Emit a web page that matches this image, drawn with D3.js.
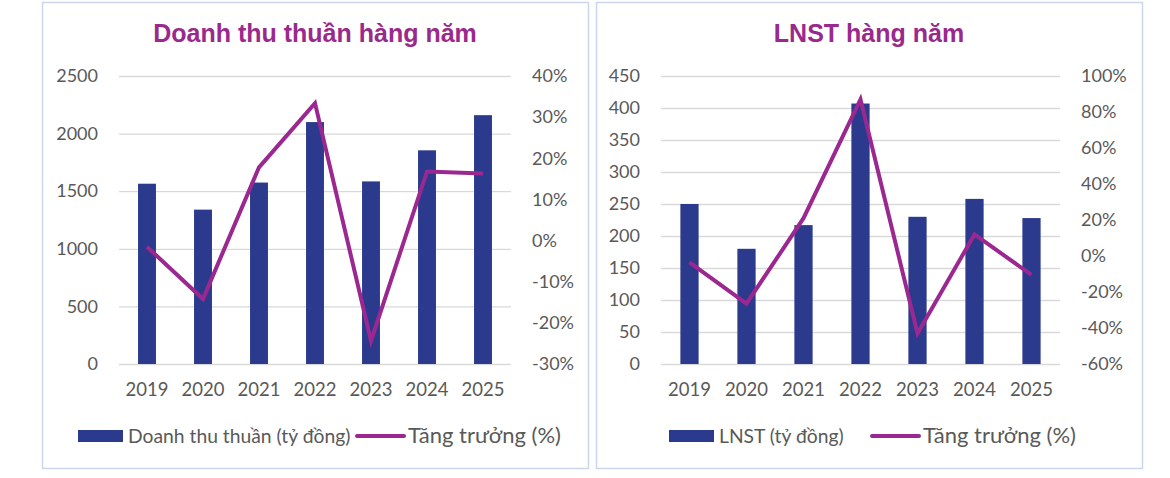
<!DOCTYPE html>
<html>
<head>
<meta charset="utf-8">
<script src="https://cdn.jsdelivr.net/npm/d3@7"></script>
<style>
  html, body { margin: 0; padding: 0; background: #ffffff; }
  svg { display: block; }
</style>
</head>
<body>
<svg id="chart" width="1170" height="478"></svg>
<script>
// ---------- DATA ----------
const years = ["2019", "2020", "2021", "2022", "2023", "2024", "2025"];

const revenueValues = [1565, 1340, 1575, 2100, 1585, 1855, 2160];
const revenueGrowth = [-1.5, -14.2, 17.8, 33.4, -24.4, 16.8, 16.3];
const revenueLeftTicks = [0, 500, 1000, 1500, 2000, 2500];
const revenueRightTicks = [-30, -20, -10, 0, 10, 20, 30, 40];

const profitValues = [250, 180, 217, 407, 230, 258, 228];
const profitGrowth = [-3.5, -26.5, 21, 87, -43, 12, -10.5];
const profitLeftTicks = [0, 50, 100, 150, 200, 250, 300, 350, 400, 450];
const profitRightTicks = [-60, -40, -20, 0, 20, 40, 60, 80, 100];

const titles = ["Doanh thu thuần hàng năm", "LNST hàng năm"];
const barLegend = ["Doanh thu thuần (tỷ đồng)", "LNST (tỷ đồng)"];
const lineLegend = "Tăng trưởng (%)";

// ---------- STYLE ----------
const BAR = "#2B3A8D";
const LINE = "#9B2790";
const TITLE = "#992A8C";
const TEXT = "#595959";
const GRID = "#D9D9D9";
const BORDER = "#C9D6EC";
const FONT = "Lato, 'Open Sans', sans-serif";

const svg = d3.select("#chart");

function drawPanel(cfg) {
  const g = svg.append("g");
  // border
  g.append("rect")
    .attr("x", cfg.box[0] + 0.5).attr("y", cfg.box[1] + 0.5)
    .attr("width", cfg.box[2] - cfg.box[0]).attr("height", cfg.box[3] - cfg.box[1])
    .attr("fill", "#fff").attr("stroke", BORDER).attr("stroke-width", 1.5);

  // title
  g.append("text")
    .attr("x", (cfg.box[0] + cfg.box[2]) / 2).attr("y", 42)
    .attr("text-anchor", "middle")
    .attr("font-family", "'Liberation Sans', Arial, sans-serif")
    .attr("font-weight", "bold").attr("font-size", 25)
    .attr("fill", TITLE).text(cfg.title);

  const x = d3.scaleBand().domain(years).range([cfg.left, cfg.right])
    .paddingInner(0.68).paddingOuter(0.34);
  const yL = d3.scaleLinear().domain(d3.extent(cfg.leftTicks)).range([364, 76]);
  const yR = d3.scaleLinear().domain(d3.extent(cfg.rightTicks)).range([364, 76]);

  // gridlines
  const gridG = g.append("g")
    .attr("transform", `translate(${cfg.left},0)`)
    .call(d3.axisLeft(yL).tickValues(cfg.leftTicks).tickSize(-(cfg.right - cfg.left)).tickFormat(""));
  gridG.select(".domain").remove();
  gridG.selectAll("line").attr("stroke", GRID).attr("stroke-width", 1.3);

  // left axis labels
  const la = g.append("g")
    .attr("transform", `translate(${cfg.left - 21},0)`)
    .call(d3.axisLeft(yL).tickValues(cfg.leftTicks).tickSize(0).tickPadding(0)
      .tickFormat(d3.format("d")));
  la.select(".domain").remove();
  la.selectAll("text").attr("font-family", FONT).attr("font-size", 18).attr("fill", TEXT);

  // right axis labels
  const ra = g.append("g")
    .attr("transform", `translate(${cfg.right + 21},0)`)
    .call(d3.axisRight(yR).tickValues(cfg.rightTicks).tickSize(0).tickPadding(0)
      .tickFormat(d => d + "%"));
  ra.select(".domain").remove();
  ra.selectAll("text").attr("font-family", FONT).attr("font-size", 18).attr("fill", TEXT);

  // x axis labels
  const xa = g.append("g")
    .attr("transform", `translate(0,364)`)
    .call(d3.axisBottom(x).tickSize(0).tickPadding(19));
  xa.select(".domain").remove();
  xa.selectAll("text").attr("font-family", FONT).attr("font-size", 18.5).attr("fill", TEXT);

  // bars
  g.append("g").selectAll("rect").data(cfg.values).join("rect")
    .attr("x", (d, i) => x(years[i]))
    .attr("width", x.bandwidth())
    .attr("y", d => yL(d))
    .attr("height", d => yL(0) - yL(d))
    .attr("fill", BAR);

  // line
  const line = d3.line()
    .x((d, i) => x(years[i]) + x.bandwidth() / 2)
    .y(d => yR(d));
  g.append("path").datum(cfg.growth)
    .attr("d", line).attr("fill", "none")
    .attr("stroke", LINE).attr("stroke-width", 4)
    .attr("stroke-linejoin", "miter").attr("stroke-linecap", "butt");

  // legend
  const lg = g.append("g");
  lg.append("rect").attr("x", cfg.leg[0]).attr("y", 430).attr("width", 45).attr("height", 12).attr("fill", BAR);
  lg.append("text").attr("x", cfg.leg[0] + 50).attr("y", 443)
    .attr("font-family", FONT).attr("font-size", 19.3).attr("fill", TEXT).text(cfg.barLabel);
  lg.append("line").attr("x1", cfg.leg[1]).attr("x2", cfg.leg[1] + 47).attr("y1", 436).attr("y2", 436)
    .attr("stroke", LINE).attr("stroke-width", 4).attr("stroke-linecap", "round");
  lg.append("text").attr("x", cfg.leg[1] + 51).attr("y", 443)
    .attr("font-family", FONT).attr("font-size", 22).attr("fill", TEXT).text(lineLegend);
}

drawPanel({
  box: [42, 2, 588, 468], left: 119, right: 511,
  title: titles[0], values: revenueValues, growth: revenueGrowth,
  leftTicks: revenueLeftTicks, rightTicks: revenueRightTicks,
  barLabel: barLegend[0], leg: [78, 357]
});
drawPanel({
  box: [596, 2, 1142, 468], left: 661, right: 1060,
  title: titles[1], values: profitValues, growth: profitGrowth,
  leftTicks: profitLeftTicks, rightTicks: profitRightTicks,
  barLabel: barLegend[1], leg: [669, 872]
});
</script>
</body>
</html>
